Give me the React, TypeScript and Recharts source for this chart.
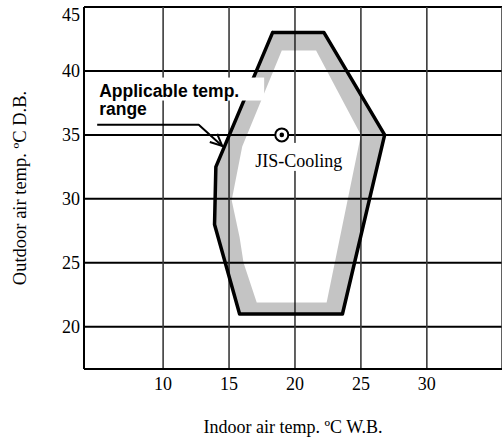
import React from "react";
import { ScatterChart, Scatter, XAxis, YAxis, CartesianGrid } from "recharts";

type Pt = { x: number; y: number };

const xTicks = [10, 15, 20, 25, 30];
const yTicks = [20, 25, 30, 35, 40, 45];

// thick outline of the applicable range, clockwise from top-left
const rangeOuter: Pt[] = [
  { x: 18.3, y: 43 },
  { x: 22.2, y: 43 },
  { x: 26.8, y: 35 },
  { x: 23.6, y: 21 },
  { x: 15.8, y: 21 },
  { x: 13.9, y: 28 },
  { x: 14.0, y: 32.5 },
  { x: 18.3, y: 43 },
];

// inner edge of the dotted band (white inside)
const rangeInner: Pt[] = [
  { x: 19.0, y: 41.6 },
  { x: 21.6, y: 41.6 },
  { x: 25.0, y: 35 },
  { x: 22.4, y: 21.9 },
  { x: 17.1, y: 21.9 },
  { x: 16.1, y: 25.0 },
  { x: 15.8, y: 27.0 },
  { x: 15.2, y: 29.9 },
  { x: 16.0, y: 34.1 },
  { x: 19.0, y: 41.6 },
];

const jisPoint: Pt[] = [{ x: 19, y: 35 }];
const jisLabel = "JIS-Cooling";

const noteAt: Pt[] = [{ x: 5.15, y: 38 }];
const noteLines = ["Applicable temp.", "range"];
const arrowLine: Pt[] = [
  { x: 5.0, y: 35.8 },
  { x: 12.7, y: 35.8 },
  { x: 14.48, y: 34.14 },
];
const arrowHead: Pt[] = [
  { x: 14.1, y: 35.08 },
  { x: 14.48, y: 34.14 },
  { x: 13.54, y: 34.45 },
];

const serif = "'Liberation Serif', 'Times New Roman', serif";
const sans = "'Liberation Sans', Arial, sans-serif";

// band = outer loop + inner loop in reverse -> hole in the middle
const bandRing: Pt[] = [...rangeOuter, ...[...rangeInner].reverse(), rangeOuter[0]];

const NoShape = () => <g />;

const XTick = ({ x, y, payload }: any) => (
  <text x={x} y={y} dy="0.71em" textAnchor="middle" fontFamily={serif} fontSize={18} fill="#000">
    {payload.value}
  </text>
);

const YTick = ({ x, y, payload }: any) => (
  <text
    x={x}
    y={y + (payload.value === 45 ? 11.5 : 6.3)}
    textAnchor="end"
    fontFamily={serif}
    fontSize={18}
    fill="#000"
  >
    {payload.value}
  </text>
);

const JisMark = ({ cx, cy }: any) => (
  <g>
    <rect x={cx - 30} y={cy + 8} width={94} height={28} fill="#fff" />
    <circle cx={cx} cy={cy} r={6.5} fill="#fff" stroke="#000" strokeWidth={2} />
    <circle cx={cx} cy={cy} r={2.3} fill="#000" />
    <text x={cx + 17} y={cy + 32} textAnchor="middle" fontFamily={serif} fontSize={18} fill="#000">
      {jisLabel}
    </text>
  </g>
);

const Note = ({ cx, cy }: any) => (
  <g>
    <rect x={cx - 4} y={cy - 19} width={169} height={23} fill="#fff" />
    {noteLines.map((t, i) => (
      <text
        key={t}
        x={cx}
        y={cy + i * 18}
        fontFamily={sans}
        fontWeight="bold"
        fontSize={17.5}
        fill="#000"
      >
        {t}
      </text>
    ))}
  </g>
);

export default function App() {
  return (
    <div style={{ position: "absolute", left: 0, top: 0, width: 502, height: 440, background: "#fff" }}>
      <ScatterChart width={502} height={440} margin={{ top: 7, right: 0, bottom: 0, left: 0 }}>
        <CartesianGrid horizontal vertical={false} stroke="#000" strokeWidth={2} />
        <CartesianGrid horizontal={false} vertical stroke="#3a3a3a" strokeWidth={1.6} />
        <XAxis
          type="number"
          dataKey="x"
          domain={[4, 35.7]}
          ticks={xTicks}
          allowDataOverflow
          height={71}
          tickSize={0}
          tickMargin={8}
          tick={<XTick />}
          axisLine={{ stroke: "#000", strokeWidth: 2 }}
          label={{
            value: "Indoor air temp. ºC W.B.",
            position: "insideBottom",
            offset: 7,
            fontFamily: serif,
            fontSize: 18,
            fill: "#000",
          }}
        />
        <YAxis
          type="number"
          dataKey="y"
          domain={[16.7, 45]}
          ticks={yTicks}
          allowDataOverflow
          width={84}
          tickSize={0}
          tickMargin={4}
          tick={<YTick />}
          axisLine={{ stroke: "#000", strokeWidth: 2 }}
          label={{
            value: "Outdoor air temp. ºC D.B.",
            angle: -90,
            position: "insideLeft",
            offset: 19,
            fontFamily: serif,
            fontSize: 18.5,
            fill: "#000",
            style: { textAnchor: "middle" },
          }}
        />
        <Scatter
          data={bandRing}
          shape={NoShape}
          line={{ stroke: "none", fill: "rgba(0,0,0,0.23)", fillRule: "evenodd" }}
          isAnimationActive={false}
        />
        <Scatter
          data={rangeOuter}
          shape={NoShape}
          line={{ stroke: "#000", strokeWidth: 3.5, fill: "none", strokeLinejoin: "round", strokeLinecap: "round" }}
          isAnimationActive={false}
        />
        <Scatter data={noteAt} shape={Note} isAnimationActive={false} />
        <Scatter
          data={arrowLine}
          shape={NoShape}
          line={{ stroke: "#000", strokeWidth: 2, fill: "none", strokeLinejoin: "round" }}
          isAnimationActive={false}
        />
        <Scatter
          data={arrowHead}
          shape={NoShape}
          line={{ stroke: "#000", strokeWidth: 2, fill: "none", strokeLinejoin: "miter" }}
          isAnimationActive={false}
        />
        <Scatter data={jisPoint} shape={JisMark} isAnimationActive={false} />
      </ScatterChart>
    </div>
  );
}
